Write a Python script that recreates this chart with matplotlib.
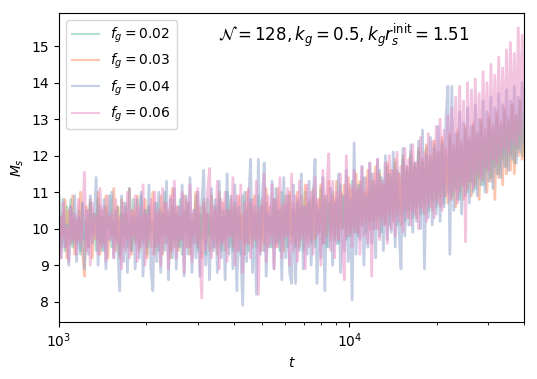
import numpy as np
import matplotlib

matplotlib.use("Agg")
import matplotlib.pyplot as plt

########## INPUTS ########
# sample times (log spaced)
t = [
    1000, 1016, 1032, 1048, 1064, 1080, 1097, 1114, 1132, 1149,
    1167, 1185, 1204, 1223, 1242, 1261, 1281, 1301, 1321, 1342,
    1363, 1384, 1406, 1428, 1450, 1473, 1496, 1519, 1543, 1567,
    1592, 1617, 1642, 1668, 1694, 1720, 1747, 1774, 1802, 1830,
    1859, 1888, 1917, 1947, 1978, 2009, 2040, 2072, 2104, 2137,
    2171, 2205, 2239, 2274, 2310, 2346, 2382, 2419, 2457, 2495,
    2534, 2574, 2614, 2655, 2697, 2739, 2782, 2825, 2869, 2914,
    2960, 3006, 3053, 3101, 3149, 3198, 3248, 3299, 3350, 3402,
    3455, 3509, 3564, 3620, 3676, 3734, 3792, 3851, 3911, 3972,
    4034, 4097, 4161, 4226, 4292, 4360, 4428, 4497, 4567, 4639,
    4711, 4785, 4859, 4935, 5012, 5091, 5170, 5251, 5333, 5417,
    5501, 5587, 5674, 5763, 5853, 5945, 6037, 6132, 6227, 6325,
    6423, 6524, 6625, 6729, 6834, 6941, 7049, 7160, 7271, 7385,
    7500, 7618, 7736, 7858, 7980, 8105, 8231, 8360, 8490, 8623,
    8757, 8895, 9033, 9175, 9317, 9464, 9611, 9762, 9913, 10069,
    10225, 10386, 10547, 10713, 10879, 11050, 11222, 11398, 11575, 11757,
    11940, 12128, 12316, 12509, 12703, 12903, 13103, 13309, 13516, 13728,
    13941, 14160, 14380, 14606, 14833, 15066, 15300, 15540, 15782, 16030,
    16279, 16535, 16791, 17055, 17320, 17592, 17866, 18146, 18428, 18717,
    19008, 19306, 19607, 19915, 20224, 20541, 20861, 21188, 21518, 21856,
    22196, 22544, 22895, 23254, 23616, 23987, 24359, 24741, 25126, 25520,
    25918, 26324, 26734, 27153, 27575, 28008, 28444, 28890, 29339, 29799,
    30263, 30738, 31216, 31706, 32199, 32704, 33213, 33735, 34259, 34797,
    35338, 35893, 36451, 37023, 37599, 38189, 38783, 39391, 40004, 40630,
]

ms_002 = [
    10.9, 9.5, 10.4, 9.4, 10.6, 9.8, 10.8, 9.5, 10.3, 9.6,
    10.5, 9.3, 10.7, 9.7, 10.2, 9.5, 10.7, 9.9, 10.4, 9.4,
    10.8, 9.6, 10.3, 9.4, 10.6, 10.0, 10.9, 9.5, 10.2, 9.7,
    10.6, 9.3, 10.4, 9.8, 10.7, 9.5, 10.1, 9.4, 10.8, 9.7,
    10.3, 9.5, 10.9, 9.6, 10.5, 9.3, 10.6, 9.9, 10.2, 9.5,
    10.7, 9.4, 10.5, 9.8, 11.0, 9.6, 10.3, 9.4, 10.6, 9.7,
    10.4, 9.5, 10.8, 9.3, 10.5, 9.9, 10.7, 9.5, 10.2, 9.6,
    10.9, 9.4, 10.4, 9.7, 10.6, 9.3, 10.8, 9.8, 10.3, 9.5,
    10.6, 9.6, 10.8, 9.4, 10.3, 9.7, 11.0, 9.5, 10.5, 9.4,
    10.7, 9.8, 10.4, 9.3, 10.9, 9.6, 10.5, 9.4, 10.8, 9.7,
    10.4, 9.5, 10.9, 9.7, 10.6, 9.4, 10.7, 9.9, 10.3, 9.5,
    10.8, 9.6, 10.5, 9.4, 11.0, 9.7, 10.6, 9.5, 10.9, 9.8,
    10.5, 9.5, 10.8, 9.7, 10.6, 9.4, 11.0, 9.8, 10.7, 9.6,
    10.9, 9.5, 10.6, 9.9, 11.1, 9.6, 10.8, 9.5, 10.7, 9.9,
    11.0, 9.7, 10.8, 9.6, 11.2, 10.0, 10.9, 9.7, 11.1, 9.8,
    11.3, 9.9, 11.0, 9.8, 11.2, 10.1, 11.4, 9.9, 11.0, 10.2,
    11.5, 10.0, 11.2, 10.3, 11.6, 9.9, 11.3, 10.2, 11.7, 10.1,
    11.4, 10.3, 11.8, 10.1, 11.5, 10.4, 11.9, 10.2, 11.6, 10.5,
    12.0, 10.3, 11.7, 10.6, 12.1, 10.4, 11.8, 10.7, 12.2, 10.5,
    11.9, 10.8, 12.3, 10.6, 12.1, 10.9, 12.4, 10.7, 12.0, 11.0,
    12.5, 10.9, 12.2, 11.1, 12.6, 10.8, 12.3, 11.2, 12.7, 11.0,
    12.4, 11.3, 12.8, 11.1, 12.6, 11.4, 12.9, 11.2, 12.5, 11.6,
    13.0, 11.4, 12.7, 11.7, 13.1, 11.5, 12.8, 11.9, 13.2, 11.7,
    12.9, 12.0, 13.4, 11.8, 13.1, 12.2, 13.5, 12.0, 13.2, 12.4,
]

ms_003 = [
    9.4, 10.3, 9.8, 10.8, 9.2, 10.5, 9.6, 10.9, 9.3, 10.2,
    9.7, 11.0, 9.4, 8.7, 10.6, 9.5, 10.8, 9.2, 10.4, 9.7,
    11.0, 9.3, 10.5, 9.6, 10.9, 9.2, 10.3, 9.8, 11.1, 9.4,
    10.6, 9.2, 10.8, 9.5, 10.4, 9.7, 11.1, 9.3, 10.5, 9.6,
    10.9, 9.4, 10.3, 9.7, 10.8, 9.2, 10.6, 9.5, 11.0, 9.3,
    10.4, 9.6, 10.9, 9.3, 10.7, 9.8, 10.5, 9.2, 11.1, 9.5,
    10.6, 9.4, 10.3, 9.7, 10.9, 9.5, 10.7, 9.3, 10.4, 9.8,
    11.0, 9.5, 10.6, 9.2, 10.8, 9.6, 10.4, 9.4, 10.9, 9.7,
    10.5, 9.3, 11.0, 9.6, 10.7, 9.4, 10.5, 9.8, 10.8, 9.5,
    10.6, 9.4, 10.9, 9.7, 10.4, 9.3, 11.0, 9.6, 10.7, 9.5,
    10.9, 9.7, 10.5, 9.4, 10.8, 9.6, 11.1, 9.5, 10.6, 9.8,
    10.8, 9.5, 11.1, 9.7, 10.6, 9.4, 10.9, 9.8, 11.0, 9.6,
    10.7, 9.6, 11.0, 9.5, 10.9, 9.8, 11.2, 9.6, 10.8, 9.7,
    11.1, 9.7, 10.8, 9.9, 11.2, 9.6, 10.9, 9.8, 11.3, 9.7,
    10.9, 9.8, 11.3, 9.7, 11.0, 10.0, 11.2, 9.8, 11.4, 9.9,
    11.1, 10.0, 11.5, 9.9, 11.3, 10.1, 11.0, 10.2, 11.6, 10.0,
    11.3, 10.2, 11.7, 10.0, 11.5, 10.3, 11.2, 10.1, 11.8, 10.4,
    11.6, 10.2, 11.9, 10.4, 11.5, 10.1, 12.0, 10.5, 11.7, 10.3,
    12.1, 10.5, 11.8, 10.3, 12.2, 10.6, 11.9, 10.4, 12.3, 10.7,
    12.0, 10.5, 12.4, 10.8, 12.1, 10.6, 12.5, 10.9, 12.2, 10.7,
    12.6, 10.8, 12.3, 10.6, 12.7, 11.0, 12.4, 10.8, 12.8, 11.1,
    12.5, 10.9, 12.9, 11.2, 12.6, 10.8, 13.0, 11.3, 12.7, 11.0,
    13.1, 11.3, 12.8, 10.8, 13.2, 11.4, 12.9, 11.2, 13.3, 11.5,
    13.0, 11.6, 13.4, 11.5, 13.1, 12.0, 13.5, 11.9, 12.8, 12.3,
]

ms_004 = [
    10.4, 9.2, 10.8, 9.5, 10.1, 9.0, 10.6, 9.6, 10.9, 9.1,
    10.3, 9.4, 10.7, 8.9, 10.5, 9.3, 10.9, 9.6, 10.2, 11.4,
    9.0, 10.6, 9.4, 10.8, 8.9, 10.4, 9.7, 11.0, 9.2, 10.5,
    9.5, 8.3, 10.9, 9.1, 10.6, 8.8, 11.1, 9.4, 10.3, 8.9,
    10.8, 9.2, 11.0, 8.7, 10.5, 9.5, 11.2, 8.9, 8.3, 10.7,
    9.1, 11.0, 8.8, 10.4, 9.4, 11.3, 8.6, 10.8, 9.2, 11.1,
    8.9, 10.6, 9.5, 11.2, 8.7, 10.9, 9.3, 11.4, 8.8, 10.5,
    9.2, 11.0, 8.7, 10.7, 11.6, 9.0, 10.4, 8.6, 11.1, 9.4,
    10.8, 8.8, 11.3, 9.2, 10.5, 8.6, 11.5, 9.3, 10.9, 8.9,
    11.2, 8.3, 10.6, 9.4, 7.9, 11.0, 9.1, 10.7, 11.9, 8.8,
    10.6, 8.2, 11.9, 9.3, 10.8, 11.8, 8.7, 10.4, 9.5, 11.3,
    8.9, 11.1, 9.6, 10.5, 8.6, 11.4, 9.2, 10.9, 8.8, 8.5,
    11.2, 8.5, 10.7, 9.4, 11.5, 8.9, 10.6, 9.3, 11.3, 9.0,
    10.8, 11.9, 8.5, 10.5, 9.2, 11.4, 8.3, 10.9, 9.5, 11.1,
    9.0, 10.7, 9.6, 11.5, 8.8, 10.9, 9.4, 11.6, 9.1, 10.8,
    8.05, 12.35, 9.3, 11.2, 9.7, 11.7, 9.0, 10.9, 9.5, 11.8,
    9.6, 11.3, 9.2, 11.9, 9.8, 11.4, 9.4, 12.0, 9.7, 11.5,
    9.9, 12.1, 9.5, 11.6, 10.0, 8.9, 12.2, 9.8, 11.7, 10.1,
    12.3, 9.9, 11.8, 10.2, 12.4, 10.0, 12.7, 8.9, 12.0, 10.3,
    12.5, 10.1, 12.2, 10.4, 12.8, 10.2, 12.3, 10.6, 13.0, 13.9,
    9.3, 13.9, 10.5, 12.6, 10.8, 13.2, 10.4, 12.9, 10.9, 13.3,
    10.7, 12.8, 11.0, 13.4, 10.9, 13.0, 11.2, 13.5, 11.0, 13.2,
    11.3, 13.6, 11.1, 13.3, 11.5, 13.7, 11.4, 13.4, 11.7, 13.8,
    11.6, 13.5, 11.9, 13.9, 11.8, 13.6, 12.1, 14.0, 12.3, 13.2,
]

ms_006 = [
    10.3, 9.2, 10.7, 9.5, 10.0, 9.1, 10.6, 9.7, 10.4, 9.3,
    10.8, 9.6, 10.2, 11.55, 9.4, 10.5, 9.0, 10.7, 9.8, 10.3,
    9.3, 11.1, 9.5, 10.6, 9.1, 10.9, 9.7, 10.4, 9.2, 10.8,
    9.6, 10.3, 8.9, 10.7, 9.4, 11.0, 9.2, 10.5, 9.8, 10.9,
    9.1, 10.6, 9.5, 11.2, 9.0, 10.4, 9.7, 10.8, 9.3, 11.0,
    9.5, 10.5, 9.0, 11.1, 9.6, 10.7, 8.9, 10.9, 9.4, 11.3,
    9.2, 10.6, 9.7, 11.0, 8.8, 10.8, 9.5, 11.2, 9.1, 10.5,
    9.6, 11.1, 9.3, 8.1, 10.7, 9.4, 11.0, 11.65, 9.2, 10.6,
    9.5, 11.3, 8.9, 10.8, 9.6, 11.0, 9.1, 10.5, 9.8, 11.4,
    9.0, 10.9, 9.4, 11.2, 8.8, 10.7, 9.6, 11.1, 9.2, 10.8,
    9.7, 11.3, 8.2, 10.6, 9.4, 11.5, 9.1, 10.9, 9.6, 11.2,
    8.9, 10.8, 9.5, 11.4, 9.2, 10.7, 9.8, 11.1, 9.0, 11.5,
    9.4, 10.9, 9.1, 11.3, 9.7, 10.6, 8.9, 11.2, 9.5, 11.0,
    9.3, 11.4, 9.8, 10.8, 9.0, 11.6, 9.6, 11.1, 12.05, 9.4,
    11.3, 9.2, 11.0, 9.7, 11.5, 9.4, 8.6, 12.0, 9.8, 11.2,
    9.5, 11.6, 9.9, 11.1, 9.3, 11.7, 9.8, 11.4, 9.6, 11.8,
    8.7, 11.5, 10.0, 11.9, 9.7, 11.3, 10.1, 11.8, 9.6, 12.0,
    10.0, 11.6, 9.8, 12.1, 10.2, 11.7, 9.9, 12.2, 10.3, 11.9,
    10.1, 12.3, 10.4, 11.8, 10.0, 12.5, 10.5, 12.1, 10.2, 12.6,
    10.6, 12.4, 10.3, 12.8, 10.7, 13.0, 10.5, 12.7, 10.9, 13.1,
    10.8, 13.3, 11.0, 13.6, 10.7, 13.9, 11.2, 13.5, 9.64, 14.0,
    11.3, 13.8, 11.1, 14.1, 11.5, 13.7, 11.4, 14.3, 11.7, 14.0,
    11.6, 14.5, 11.9, 14.2, 11.8, 14.7, 12.0, 14.4, 12.2, 14.9,
    12.1, 15.1, 12.4, 14.8, 12.3, 15.5, 12.6, 15.3, 12.8, 14.9,
]

fg_labels = ["0.02", "0.03", "0.04", "0.06"]
###### END INPUTS ########

series = [ms_002, ms_003, ms_004, ms_006]
colors = ["#66c2a5", "#fc8d62", "#8da0cb", "#e78ac3"]

fig = plt.figure(figsize=(5.37, 3.79), dpi=100)
ax = fig.add_axes([0.110, 0.151, 0.866, 0.814])

for i in range(len(series)):
    ax.plot(t, series[i], color=colors[i], alpha=0.5, lw=2.0,
            label=r"$f_g=%s$" % fg_labels[i])

ax.set_xscale("log")
ax.set_xlim(1e3, 4e4)
ax.set_ylim(7.45, 15.9)
ax.set_xlabel(r"$t$")
ax.set_ylabel(r"$M_s$")
ax.text(0.342, 0.93, r"$\mathcal{N}=128, k_g=0.5, k_g r_s^{\rm init}=1.51$",
        transform=ax.transAxes, fontsize=12, va="center", ha="left")
leg = ax.legend(loc="upper left")
for line in leg.get_lines():
    line.set_linewidth(1.5)

plt.savefig("out.png", dpi=100)
